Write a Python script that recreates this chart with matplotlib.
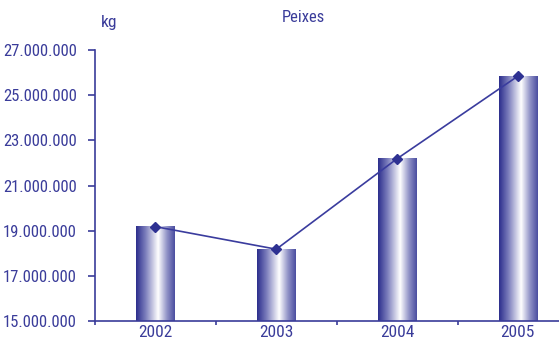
import matplotlib
matplotlib.use("Agg")
import matplotlib.pyplot as plt
import numpy as np
from matplotlib.colors import LinearSegmentedColormap
from matplotlib.ticker import FuncFormatter

years = ["2002", "2003", "2004", "2005"]
values = [19180000, 18180000, 22190000, 25850000]
yticks = [15000000, 17000000, 19000000, 21000000, 23000000, 25000000, 27000000]

navy = "#2e3192"
textc = "#3a3c9a"
plt.rcParams['font.family'] = ['Roboto Condensed', 'Roboto', 'DejaVu Sans']

fig = plt.figure(figsize=(5.59, 3.41), dpi=100)
ax = fig.add_axes([0.170, 0.0587, 0.830, 0.7943])

x = np.arange(len(years))
bars = ax.bar(x, values, width=0.32, color="none", edgecolor="none", zorder=2)

cmap = LinearSegmentedColormap.from_list(
    "g", [(0.0, "#2b2d8c"), (0.25, "#7e80bd"), (0.57, "#ffffff"), (0.8, "#8f91c6"), (1.0, "#4a4da0")])
grad = np.linspace(0, 1, 256).reshape(1, -1)
for b in bars:
    x0, w, h = b.get_x(), b.get_width(), b.get_height()
    ax.imshow(grad, cmap=cmap, aspect="auto", extent=(x0, x0 + w, 15000000, h),
              zorder=2, interpolation="bilinear")

ax.plot(x, values, color="#3a3c9e", lw=1.2, marker="D", ms=5.5,
        mfc=navy, mec=navy, zorder=3)

ax.set_xlim(-0.5, 3.34)
ax.set_ylim(15000000, 27000000)
ax.set_yticks(yticks)
ax.yaxis.set_major_formatter(FuncFormatter(lambda v, p: f"{int(v):,}".replace(",", ".")))
ax.set_xticks(x)
ax.set_xticklabels(years)
ax.set_xticks(np.arange(-0.5, 3.5, 1), minor=True)

for s in ["top", "right"]:
    ax.spines[s].set_visible(False)
for s in ["left", "bottom"]:
    ax.spines[s].set_color("#3a3c9a")
    ax.spines[s].set_linewidth(1.2)

ax.tick_params(axis="y", which="major", direction="out", length=5, width=1.2,
               color="#3a3c9a", labelcolor=textc, labelsize=12, pad=8)
ax.tick_params(axis="x", which="major", length=0, labelcolor=textc, labelsize=12.5, pad=3)
ax.tick_params(axis="x", which="minor", direction="out", length=3, width=1.2, color="#3a3c9a")

fig.text(0.542, 0.948, "Peixes", ha="center", va="center", color=textc, fontsize=12)
fig.text(0.195, 0.935, "kg", ha="center", va="center", color=textc, fontsize=12.5)

fig.savefig("out.png", dpi=100)
